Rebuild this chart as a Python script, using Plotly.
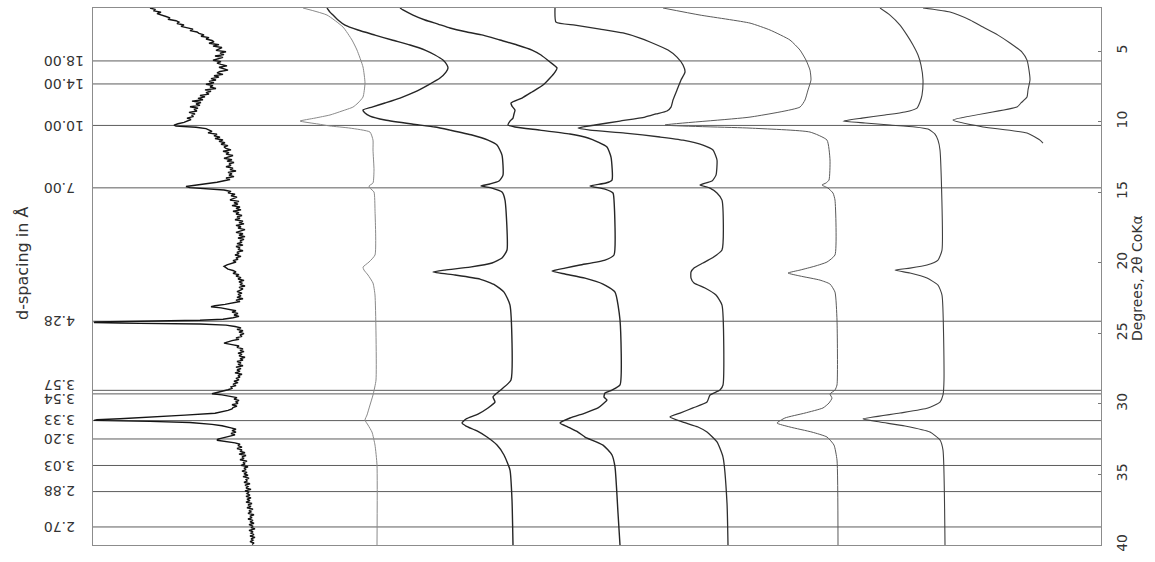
import numpy as np
import plotly.graph_objects as go

# ---------------- data ----------------
WAVELENGTH_CO_KA = 1.7902  # Angstrom
d_spacings = [18.00, 14.00, 10.00, 7.00, 4.28, 3.57, 3.54, 3.33, 3.20, 3.03, 2.88, 2.70]
d_labels = ["18.00", "14.00", "10.00", "7.00", "4.28", "3.57", "3.54", "3.33", "3.20", "3.03", "2.88", "2.70"]
two_theta_ticks = [5, 10, 15, 20, 25, 30, 35, 40]

# pattern 1 (noisy, heavy)
t1_2th = [1.95, 2.05, 2.15, 2.25, 2.35, 2.45, 2.55, 2.65, 2.75, 2.85, 2.95, 3.05, 3.15, 3.25, 3.35, 3.45, 3.55, 3.65, 3.75, 3.85,
          3.95, 4.05, 4.15, 4.25, 4.35, 4.45, 4.55, 4.65, 4.75, 4.85, 4.95, 5.05, 5.15, 5.25, 5.35, 5.45, 5.55, 5.65, 5.75, 5.85,
          5.95, 6.05, 6.15, 6.25, 6.35, 6.45, 6.55, 6.65, 6.75, 6.85, 6.95, 7.05, 7.15, 7.25, 7.35, 7.45, 7.55, 7.65, 7.75, 7.85,
          7.95, 8.05, 8.15, 8.25, 8.35, 8.45, 8.55, 8.65, 8.75, 8.85, 8.95, 9.05, 9.15, 9.25, 9.35, 9.45, 9.55, 9.65, 9.75, 9.85,
          9.95, 10.05, 10.15, 10.25, 10.32, 10.40, 10.50, 10.60, 10.70, 10.80, 10.90, 11.00, 11.10, 11.20, 11.30, 11.40, 11.50,
          11.60, 11.70, 11.80, 11.90, 12.00, 12.10, 12.20, 12.30, 12.40, 12.50, 12.60, 12.70, 12.80, 12.90, 13.00, 13.10, 13.20,
          13.30, 13.40, 13.50, 13.60, 13.70, 13.80, 13.90, 14.00, 14.10, 14.20, 14.30, 14.40, 14.50, 14.60, 14.68, 14.76, 14.85,
          14.95, 15.05, 15.15, 15.25, 15.35, 15.45, 15.55, 15.65, 15.75, 15.85, 15.95, 16.05, 16.15, 16.25, 16.35, 16.45, 16.55,
          16.65, 16.75, 16.85, 16.95, 17.05, 17.15, 17.25, 17.35, 17.45, 17.55, 17.65, 17.75, 17.85, 17.95, 18.05, 18.15, 18.25,
          18.35, 18.45, 18.55, 18.65, 18.75, 18.85, 18.95, 19.05, 19.15, 19.25, 19.35, 19.45, 19.55, 19.65, 19.75, 19.85, 19.95,
          20.05, 20.15, 20.25, 20.35, 20.45, 20.55, 20.65, 20.75, 20.85, 20.95, 21.05, 21.15, 21.25, 21.35, 21.45, 21.55, 21.65,
          21.75, 21.85, 21.95, 22.05, 22.15, 22.25, 22.35, 22.45, 22.55, 22.65, 22.75, 22.85, 22.95, 23.05, 23.12, 23.20, 23.30,
          23.40, 23.50, 23.60, 23.70, 23.80, 23.90, 24.00, 24.08, 24.14, 24.20, 24.24, 24.28, 24.34, 24.42, 24.52, 24.62, 24.72,
          24.82, 24.92, 25.02, 25.12, 25.22, 25.32, 25.42, 25.52, 25.62, 25.70, 25.80, 25.90, 26.00, 26.10, 26.20, 26.30, 26.40,
          26.50, 26.60, 26.70, 26.80, 26.90, 27.00, 27.10, 27.20, 27.30, 27.40, 27.50, 27.60, 27.70, 27.80, 27.90, 28.00, 28.10,
          28.20, 28.30, 28.40, 28.50, 28.60, 28.70, 28.80, 28.90, 29.00, 29.10, 29.20, 29.28, 29.36, 29.46, 29.56, 29.66, 29.76,
          29.86, 29.96, 30.06, 30.16, 30.26, 30.36, 30.46, 30.56, 30.66, 30.80, 30.95, 31.05, 31.12, 31.17, 31.24, 31.32, 31.45,
          31.55, 31.70, 31.80, 31.90, 32.00, 32.10, 32.20, 32.30, 32.40, 32.50, 32.58, 32.66, 32.76, 32.86, 32.96, 33.06, 33.16,
          33.26, 33.36, 33.46, 33.56, 33.66, 33.76, 33.86, 33.96, 34.06, 34.16, 34.26, 34.36, 34.46, 34.56, 34.66, 34.76, 34.86,
          34.96, 35.06, 35.16, 35.26, 35.36, 35.46, 35.56, 35.66, 35.76, 35.86, 35.96, 36.06, 36.16, 36.26, 36.36, 36.46, 36.56,
          36.66, 36.76, 36.86, 36.96, 37.06, 37.16, 37.26, 37.36, 37.46, 37.56, 37.66, 37.76, 37.86, 37.96, 38.06, 38.16, 38.26,
          38.36, 38.46, 38.56, 38.66, 38.76, 38.86, 38.96, 39.06, 39.16, 39.26, 39.36, 39.46, 39.56, 39.66, 39.76, 39.86, 39.96]
t1_sig = [150, 155, 154, 161, 157, 163, 166, 170, 168, 176, 179, 177, 184, 181, 188, 193, 190, 197, 199, 204,
          201, 209, 206, 212, 214, 209, 219, 213, 222, 218, 216, 226, 220, 224, 215, 223, 219, 213, 221, 217,
          221, 227, 219, 225, 228, 220, 217, 223, 214, 219, 211, 216, 209, 214, 206, 213, 210, 216, 205, 211,
          206, 209, 200, 205, 198, 203, 192, 201, 196, 200, 190, 198, 194, 197, 189, 195, 192, 193, 187, 191,
          188, 184, 178, 174, 176, 196, 206, 209, 212, 208, 217, 214, 220, 215, 223, 219, 225,
          221, 228, 224, 226, 231, 223, 229, 226, 233, 228, 224, 232, 227, 234, 229, 231, 226,
          233, 230, 236, 228, 232, 229, 234, 226, 230, 224, 217, 206, 193, 186, 190, 211, 224,
          231, 228, 235, 231, 237, 233, 230, 239, 234, 238, 232, 240, 236, 241, 233, 239, 236,
          242, 237, 240, 235, 243, 239, 244, 236, 241, 238, 245, 240, 236, 243, 239, 245, 238,
          244, 240, 242, 237, 243, 236, 240, 238, 243, 237, 239, 235, 241, 236, 238, 233, 236,
          231, 227, 224, 226, 228, 233, 236, 233, 239, 236, 241, 238, 244, 239, 242, 240, 245,
          239, 243, 240, 237, 242, 238, 241, 237, 243, 236, 240, 233, 225, 215, 211, 221, 229,
          236, 232, 238, 234, 239, 233, 223, 200, 140, 95, 94, 120, 200, 226, 235, 241, 237,
          243, 239, 244, 240, 242, 236, 239, 232, 226, 224, 232, 239, 237, 243, 240, 244, 238,
          242, 239, 245, 240, 243, 237, 241, 238, 243, 236, 241, 237, 240, 235, 242, 238, 240,
          236, 239, 234, 238, 233, 236, 231, 232, 228, 222, 214, 212, 222, 231, 237, 234, 239,
          236, 238, 232, 237, 233, 232, 228, 222, 215, 185, 150, 120, 97, 94, 150, 190, 212,
          222, 231, 236, 232, 236, 231, 235, 229, 224, 218, 217, 227, 235, 240, 238, 242, 237,
          242, 240, 245, 239, 246, 242, 244, 240, 247, 243, 245, 241, 248, 244, 246, 242, 247,
          244, 248, 243, 249, 246, 247, 244, 250, 245, 248, 246, 251, 245, 249, 247, 250, 246,
          251, 247, 250, 246, 252, 248, 251, 247, 253, 249, 251, 248, 254, 250, 252, 248, 253,
          250, 254, 249, 253, 251, 255, 249, 253, 251, 254, 250, 255, 251, 253, 250, 254, 252]

# pattern 2 (light, smooth)
t2_2th = [1.95, 2.45, 3.30, 4.22, 4.93, 6.13, 7.27, 8.26, 8.68, 8.97, 9.25, 9.53, 9.75, 9.96, 10.17, 10.31, 10.46, 10.74,
          11.31, 12.01, 13.43, 14.35, 14.56, 14.71, 14.99, 16.27, 19.45, 19.95, 20.31, 20.52, 20.87, 21.44, 22.29, 28.31,
          29.37, 30.08, 30.79, 31.14, 31.50, 32.00, 32.92, 34.33, 40.0]
t2_sig = [303, 327, 343, 352, 357, 363, 365, 363, 358, 353, 342, 330, 315, 300, 318, 330, 350, 370,
          373, 373, 374, 373, 369, 370, 374, 375, 375, 369, 363, 364, 368, 373, 375, 376,
          373, 370, 367, 365, 368, 372, 375, 377, 377]

# pattern 3
t3_2th = [1.95, 2.24, 2.45, 2.80, 3.16, 3.51, 3.87, 4.22, 4.57, 4.93, 5.28, 5.64, 5.99, 6.20, 6.49, 6.91, 7.41, 7.90, 8.33,
          8.68, 8.97, 9.18, 9.39, 9.61, 9.89, 10.17, 10.38, 10.60, 10.95, 11.31, 11.66, 12.37, 13.79, 14.21, 14.42, 14.56,
          14.71, 14.99, 15.56, 19.10, 19.67, 20.02, 20.31, 20.52, 20.66, 20.87, 21.16, 21.58, 22.08, 23.00, 28.31, 28.88,
          29.23, 29.51, 29.87, 30.29, 30.72, 31.07, 31.36, 31.57, 31.92, 32.35, 32.92, 33.62, 34.69, 36.81, 40.0]
t3_sig = [327, 330, 333, 338, 345, 358, 375, 392, 410, 425, 435, 443, 447, 448, 446, 440, 428, 415, 400,
          385, 372, 363, 365, 370, 385, 412, 435, 450, 472, 488, 497, 502, 503, 499, 490, 481,
          492, 502, 505, 507, 502, 492, 470, 445, 433, 455, 480, 495, 504, 510, 511, 503,
          497, 493, 495, 488, 478, 466, 462, 466, 477, 487, 497, 504, 510, 512, 513]

# pattern 4
t4_2th = [1.95, 2.09, 2.45, 2.80, 3.09, 3.37, 3.65, 3.87, 4.22, 4.57, 4.93, 5.28, 5.78, 6.20, 6.49, 6.91, 7.41, 7.90, 8.33,
          8.68, 8.90, 9.18, 9.46, 9.75, 9.96, 10.24, 10.38, 10.60, 10.88, 11.16, 11.45, 11.80, 12.51, 14.14, 14.35, 14.56,
          14.78, 15.06, 15.56, 19.45, 19.81, 20.16, 20.38, 20.59, 20.80, 21.09, 21.51, 22.08, 24.06, 28.66, 29.02, 29.23,
          29.51, 29.73, 30.01, 30.29, 30.65, 31.00, 31.36, 31.64, 32.00, 32.35, 32.92, 33.62, 34.47, 37.73, 40.0]
t4_sig = [400, 403, 413, 425, 438, 450, 467, 483, 500, 517, 532, 541, 550, 557, 555, 550, 543, 532, 522,
          511, 512, 515, 514, 513, 510, 508, 515, 540, 570, 588, 598, 607, 611, 612, 606, 590,
          605, 613, 614, 614, 605, 580, 565, 552, 565, 585, 603, 615, 620, 620, 612, 605,
          604, 607, 603, 598, 585, 570, 560, 568, 578, 585, 603, 612, 615, 618, 620]

# pattern 5
t5_2th = [1.95, 2.95, 3.16, 3.44, 3.72, 4.08, 4.36, 4.93, 5.43, 5.99, 6.49, 7.05, 7.76, 8.47, 8.97, 9.25, 9.46, 9.68, 9.96,
          10.24, 10.46, 10.60, 10.81, 11.09, 11.31, 11.66, 12.01, 12.72, 13.79, 14.21, 14.49, 14.71, 15.06, 15.56, 19.10,
          19.67, 20.02, 20.38, 20.66, 21.09, 21.44, 21.79, 22.29, 23.00, 28.66, 29.02, 29.37, 29.87, 30.29, 30.65, 30.93,
          31.29, 31.64, 32.00, 32.70, 33.77, 37.02, 40.0]
t5_sig = [555, 556, 575, 600, 623, 640, 650, 668, 677, 683, 685, 681, 677, 673, 671, 667, 656, 645, 620,
          595, 578, 590, 625, 660, 683, 703, 713, 717, 716, 712, 700, 710, 717, 722, 722,
          712, 703, 694, 691, 691, 694, 705, 716, 722, 723, 720, 710, 707, 693, 680, 670,
          683, 698, 707, 717, 723, 727, 728]

# pattern 6
t6_2th = [1.95, 2.45, 3.02, 3.51, 4.22, 4.93, 5.64, 6.35, 7.05, 7.76, 8.47, 8.97, 9.68, 10.24, 10.46, 10.74, 11.31,
          12.72, 14.14, 14.35, 14.49, 14.71, 15.06, 15.56, 19.45, 19.95, 20.24, 20.52, 20.73, 20.94, 21.23, 21.51, 22.08,
          24.06, 28.66, 29.02, 29.30, 29.59, 29.94, 30.29, 30.65, 31.00, 31.36, 31.64, 32.00, 32.35, 32.92, 33.98, 40.0]
t6_sig = [663, 700, 750, 770, 790, 800, 806, 810, 811, 808, 805, 800, 750, 665, 750, 810, 827,
          830, 829, 826, 822, 828, 833, 835, 835, 827, 815, 800, 788, 800, 820, 830, 835,
          837, 837, 835, 830, 832, 829, 823, 805, 785, 777, 790, 812, 827, 834, 837, 838]

# pattern 7
t7_2th = [1.95, 2.45, 3.16, 3.87, 4.57, 5.28, 5.99, 7.05, 8.12, 8.61, 9.04, 9.32, 9.53, 9.75, 9.96, 10.10, 10.24, 10.38,
          10.53, 10.88, 11.31, 12.01, 19.10, 19.81, 20.16, 20.38, 20.52, 20.73, 21.09, 21.58, 22.29, 28.31, 29.37, 29.87,
          30.29, 30.65, 31.07, 31.29, 31.57, 32.00, 32.56, 33.28, 40.0]
t7_sig = [880, 890, 900, 907, 913, 918, 921, 923, 922, 920, 917, 905, 885, 862, 843, 865, 890, 915,
          928, 935, 938, 940, 942, 938, 927, 910, 895, 910, 927, 938, 942, 944, 943, 940,
          928, 900, 863, 880, 905, 930, 940, 943, 945]

# pattern 8 (low-angle scan only)
t8_2th = [1.95, 2.24, 2.80, 3.30, 3.87, 4.43, 5.07, 5.64, 6.35, 7.05, 7.76, 8.26, 8.68, 8.97, 9.89, 10.38, 10.81,
          11.31, 11.52]
t8_sig = [923, 950, 970, 983, 998, 1010, 1022, 1027, 1029, 1030, 1028, 1027, 1021, 1017, 953, 983, 1027,
          1040, 1043]

patterns = [
    (t1_2th, t1_sig, "#151515", 1.4, "linear"),
    (t2_2th, t2_sig, "#8a8a8a", 1.0, "spline"),
    (t3_2th, t3_sig, "#262626", 1.4, "spline"),
    (t4_2th, t4_sig, "#262626", 1.4, "spline"),
    (t5_2th, t5_sig, "#2e2e2e", 1.3, "spline"),
    (t6_2th, t6_sig, "#5a5a5a", 1.0, "spline"),
    (t7_2th, t7_sig, "#404040", 1.1, "spline"),
    (t8_2th, t8_sig, "#404040", 1.1, "spline"),
]

# ---------------- figure ----------------
fig = go.Figure()

line_2th = [2 * np.degrees(np.arcsin(WAVELENGTH_CO_KA / (2 * d))) for d in d_spacings]

for y in line_2th:
    fig.add_shape(type="line", xref="paper", x0=0, x1=1, yref="y", y0=y, y1=y,
                  line=dict(color="#5c5c5c", width=1), layer="below")

for tt, sig, col, w, shape in patterns:
    fig.add_trace(go.Scatter(x=sig, y=tt, mode="lines",
                             line=dict(color=col, width=w, shape=shape, smoothing=0.5),
                             hoverinfo="skip", showlegend=False))

label_shift = {"3.57": 6, "3.54": -5}
for y, lab in zip(line_2th, d_labels):
    fig.add_annotation(x=(42 - 93) / 1008, xref="paper", xanchor="left",
                       y=y, yref="y", yanchor="middle", yshift=label_shift.get(lab, 0),
                       text=lab, textangle=180, showarrow=False,
                       font=dict(family="DejaVu Sans", size=14, color="#333333"))

fig.add_annotation(x=(22 - 93) / 1008, xref="paper", xanchor="center",
                   y=1 - (263 - 8) / 537, yref="paper", yanchor="middle",
                   text="d-spacing in Å", textangle=-90, showarrow=False,
                   font=dict(family="DejaVu Sans", size=16, color="#333333"))

fig.add_annotation(x=(1137 - 93) / 1008, xref="paper", xanchor="center",
                   y=1 - (278 - 8) / 537, yref="paper", yanchor="middle",
                   text="Degrees, 2θ CoKα", textangle=-90, showarrow=False,
                   font=dict(family="DejaVu Sans", size=14, color="#333333"))

fig.update_layout(
    width=1155, height=562,
    margin=dict(l=93, r=54, t=8, b=17),
    paper_bgcolor="white", plot_bgcolor="white",
    xaxis=dict(range=[93, 1101], showticklabels=False, ticks="", showgrid=False, zeroline=False,
               showline=True, mirror=True, linecolor="#8c8c8c", linewidth=1),
    yaxis=dict(range=[40, 1.95], side="right", tickvals=two_theta_ticks, ticks="inside", ticklen=3,
               tickcolor="#777777", tickangle=-90, ticklabelstandoff=8,
               tickfont=dict(family="DejaVu Sans", size=14, color="#333333"),
               showgrid=False, zeroline=False, showline=True, mirror=True,
               linecolor="#8c8c8c", linewidth=1),
)

fig.write_html("out.html", config={"displayModeBar": False},
               post_script="document.body.style.margin='0';document.body.style.padding='0';")
